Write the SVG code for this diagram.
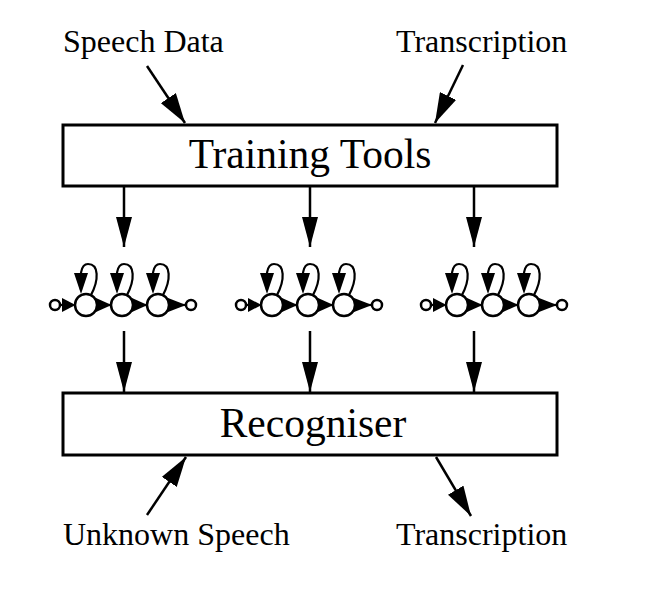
<svg xmlns="http://www.w3.org/2000/svg" xmlns:xlink="http://www.w3.org/1999/xlink" width="646" height="592" viewBox="0 0 646 592">
<style>
.box{fill:#fff;stroke:#000;stroke-width:3}
.big{font-family:"Liberation Serif","Times New Roman",serif;font-size:41.5px;fill:#000}
.lbl{font-family:"Liberation Serif","Times New Roman",serif;font-size:32px;fill:#000}
.con{stroke:#000;stroke-width:2.5;fill:none}
.st{fill:#fff;stroke:#000;stroke-width:2.5}
.tr{stroke:#000;stroke-width:2.2;fill:none}
</style>
<defs>
<marker id="ah" markerUnits="userSpaceOnUse" markerWidth="30" markerHeight="16" refX="30" refY="8" orient="auto">
<path d="M0,0 L30,8 L0,16 z" fill="#000"/>
</marker>
<marker id="ahd" markerUnits="userSpaceOnUse" markerWidth="30" markerHeight="18" refX="30" refY="9" orient="auto">
<path d="M0,0 L30,9 L0,18 z" fill="#000"/>
</marker>
<g id="hmm">
<!-- transitions -->
<path d="M5,0 L18,0" class="tr"/><path d="M7,-7 L20.5,0 L7,7 z" fill="#000"/>
<path d="M42,0 L56,0" class="tr"/><path d="M41,-7 L56.5,0 L41,7 z" fill="#000"/>
<path d="M78,0 L92,0" class="tr"/><path d="M77,-7 L92.5,0 L77,7 z" fill="#000"/>
<path d="M114,0 L131,0" class="tr"/><path d="M113,-7 L131,0 L113,7 z" fill="#000"/>
<!-- self loops -->
<path d="M36,-10 C44,-25 44,-41 33,-41 C25,-41 25,-28 26,-15" class="tr"/>
<path d="M19,-32 L33,-32 L26,-11 z" fill="#000"/>
<path d="M72,-10 C80,-25 80,-41 69,-41 C61,-41 61,-28 62,-15" class="tr"/>
<path d="M55,-32 L69,-32 L62,-11 z" fill="#000"/>
<path d="M108,-10 C116,-25 116,-41 105,-41 C97,-41 97,-28 98,-15" class="tr"/>
<path d="M91,-32 L105,-32 L98,-11 z" fill="#000"/>
<!-- states -->
<circle cx="0" cy="0" r="5" class="st"/>
<circle cx="31" cy="0" r="11" class="st"/>
<circle cx="67" cy="0" r="11" class="st"/>
<circle cx="103" cy="0" r="11" class="st"/>
<circle cx="136" cy="0" r="5" class="st"/>
</g>
</defs>

<g id="training-tools">
<rect x="63" y="125" width="494" height="61" class="box"/>
<text x="310" y="168" text-anchor="middle" class="big">Training Tools</text>
</g>
<g id="recogniser">
<rect x="63" y="393" width="494" height="62" class="box"/>
<text x="313" y="437" text-anchor="middle" class="big">Recogniser</text>
</g>
<g id="speech-data"><text x="63" y="52" class="lbl">Speech Data</text></g>
<g id="transcription-in"><text x="396" y="52" class="lbl">Transcription</text></g>
<g id="unknown-speech"><text x="63" y="545" class="lbl">Unknown Speech</text></g>
<g id="transcription-out"><text x="396" y="545" class="lbl">Transcription</text></g>
<g id="hmm1"><use xlink:href="#hmm" href="#hmm" x="55" y="305"/></g>
<g id="hmm2"><use xlink:href="#hmm" href="#hmm" x="241" y="305"/></g>
<g id="hmm3"><use xlink:href="#hmm" href="#hmm" x="426" y="305"/></g>

<g id="connectors">
<line x1="147" y1="66" x2="185" y2="123" class="con" marker-end="url(#ahd)"/>
<line x1="463" y1="65" x2="435" y2="123" class="con" marker-end="url(#ahd)"/>
<line x1="124" y1="187" x2="124" y2="247" class="con" marker-end="url(#ah)"/>
<line x1="310" y1="187" x2="310" y2="247" class="con" marker-end="url(#ah)"/>
<line x1="474" y1="187" x2="474" y2="247" class="con" marker-end="url(#ah)"/>
<line x1="124" y1="331" x2="124" y2="392" class="con" marker-end="url(#ah)"/>
<line x1="310" y1="331" x2="310" y2="392" class="con" marker-end="url(#ah)"/>
<line x1="474" y1="331" x2="474" y2="392" class="con" marker-end="url(#ah)"/>
<line x1="147" y1="515" x2="186" y2="457" class="con" marker-end="url(#ahd)"/>
<line x1="436" y1="457" x2="471" y2="516" class="con" marker-end="url(#ahd)"/>
</g>
</svg>
